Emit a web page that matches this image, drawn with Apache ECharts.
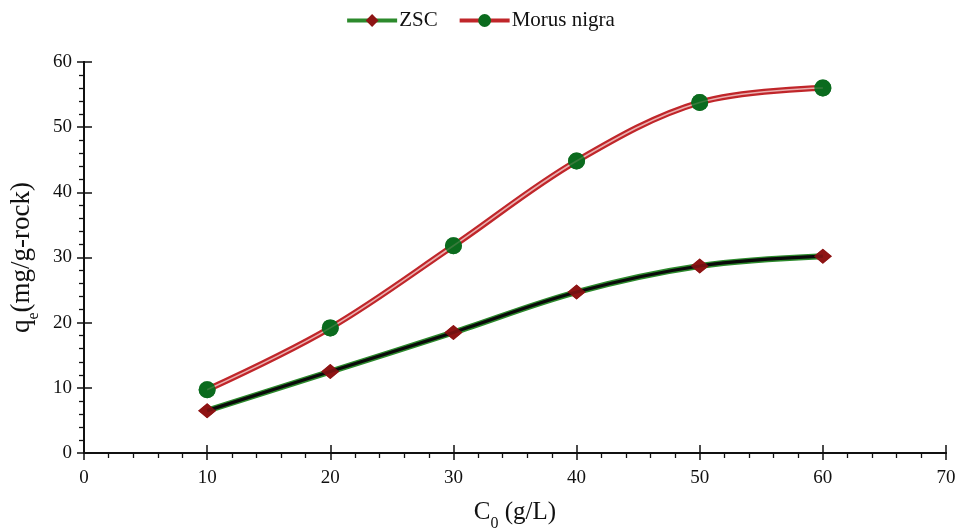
<!DOCTYPE html>
<html>
<head>
<meta charset="utf-8">
<script src="https://cdn.jsdelivr.net/npm/echarts@6/dist/echarts.min.js"></script>
<style>html,body{margin:0;padding:0;background:#fff}#c{width:960px;height:529px}</style>
</head>
<body>
<div id="c"></div>
<script>
var concentrations = [10, 20, 30, 40, 50, 60];
var zscValues = [6.5, 12.5, 18.5, 24.7, 28.7, 30.2];
var morusValues = [9.7, 19.2, 31.8, 44.8, 53.8, 56.0];
var xTicks = [0, 10, 20, 30, 40, 50, 60, 70];
var yTicks = [0, 10, 20, 30, 40, 50, 60];

function pairs(vals) { return concentrations.map(function (c, i) { return [c, vals[i]]; }); }

var font = 'Liberation Serif';
var chart = echarts.init(document.getElementById('c'));
var axisLineStyle = { color: '#111', width: 2 };
var baseX = {
  type: 'value', min: xTicks[0], max: xTicks[xTicks.length - 1], interval: 10,
  axisLine: { show: true, onZero: false, lineStyle: axisLineStyle },
  splitLine: { show: false },
  minorSplitLine: { show: false }
};
var baseY = {
  type: 'value', min: yTicks[0], max: yTicks[yTicks.length - 1], interval: 10,
  axisLine: { show: true, onZero: false, lineStyle: axisLineStyle },
  splitLine: { show: false },
  minorSplitLine: { show: false }
};
chart.setOption({
  animation: false,
  backgroundColor: '#fff',
  legend: {
    top: 5, left: 'center',
    itemWidth: 50, itemHeight: 16, itemGap: 20,
    data: ['ZSC', 'Morus nigra'],
    lineStyle: { width: 4 },
    textStyle: { fontFamily: font, fontSize: 21, color: '#111', padding: [0, 0, 0, -3] }
  },
  grid: { left: 84, right: 14, top: 62, bottom: 76, outerBoundsMode: 'none', containLabel: false },
  xAxis: [
    Object.assign({}, baseX, {
      position: 'bottom',
      name: '{a|C}{b|0}{a| (g/L)}',
      nameLocation: 'middle', nameGap: 47,
      nameTextStyle: { rich: {
        a: { fontFamily: font, fontSize: 25, color: '#111' },
        b: { fontFamily: font, fontSize: 16, color: '#111', verticalAlign: 'bottom', padding: [0, 0, -7, 0] }
      } },
      axisTick: { show: true, length: 7, lineStyle: { color: '#111', width: 1.5 } },
      minorTick: { show: true, splitNumber: 5, length: 5, lineStyle: { color: '#111', width: 1.3 } },
      axisLabel: { fontFamily: font, fontSize: 19, color: '#111', margin: 16 }
    }),
    Object.assign({}, baseX, {
      position: 'bottom',
      axisTick: { show: true, inside: true, length: 8, lineStyle: { color: '#111', width: 1.5 } },
      minorTick: { show: false },
      axisLabel: { show: false }
    })
  ],
  yAxis: [
    Object.assign({}, baseY, {
      position: 'left',
      name: '{a|q}{b|e}{a|(mg/g-rock)}',
      nameLocation: 'middle', nameGap: 47, nameRotate: 90,
      nameTextStyle: { rich: {
        a: { fontFamily: font, fontSize: 27, color: '#111' },
        b: { fontFamily: font, fontSize: 16, color: '#111', verticalAlign: 'bottom', padding: [0, 0, -7, 0] }
      } },
      axisTick: { show: true, length: 7, lineStyle: { color: '#111', width: 1.5 } },
      minorTick: { show: true, splitNumber: 5, length: 5, lineStyle: { color: '#111', width: 1.3 } },
      axisLabel: { fontFamily: font, fontSize: 19, color: '#111', margin: 12 }
    }),
    Object.assign({}, baseY, {
      position: 'left',
      axisTick: { show: true, inside: true, length: 8, lineStyle: { color: '#111', width: 1.5 } },
      minorTick: { show: false },
      axisLabel: { show: false }
    })
  ],
  series: [
    {
      name: 'ZSC', type: 'line', smooth: 0.35, z: 2,
      data: pairs(zscValues),
      lineStyle: { color: '#2c8a2c', width: 6 },
      itemStyle: { color: '#8e1414' },
      symbol: 'diamond', symbolSize: [18, 15], showSymbol: true
    },
    {
      name: 'zsc-inner', type: 'line', smooth: 0.35, z: 3,
      data: pairs(zscValues), showSymbol: false, silent: true,
      lineStyle: { color: '#0a0a0a', width: 3.2 }
    },
    {
      name: 'zsc-marks', type: 'scatter', z: 4,
      data: pairs(zscValues),
      symbol: 'diamond', symbolSize: [18, 15],
      itemStyle: { color: '#8e1414' }
    },
    {
      name: 'Morus nigra', type: 'line', smooth: 0.35, z: 2,
      data: pairs(morusValues),
      lineStyle: { color: '#c0262a', width: 6 },
      itemStyle: { color: '#0b6b1e' },
      symbol: 'circle', symbolSize: 17, showSymbol: true
    },
    {
      name: 'morus-inner', type: 'line', smooth: 0.35, z: 3,
      data: pairs(morusValues), showSymbol: false, silent: true,
      lineStyle: { color: '#eab0b0', width: 1.6 }
    },
    {
      name: 'morus-marks', type: 'scatter', z: 4,
      data: pairs(morusValues),
      symbol: 'circle', symbolSize: 17,
      itemStyle: { color: '#0b6b1e' }
    }
  ]
});
</script>
</body>
</html>
